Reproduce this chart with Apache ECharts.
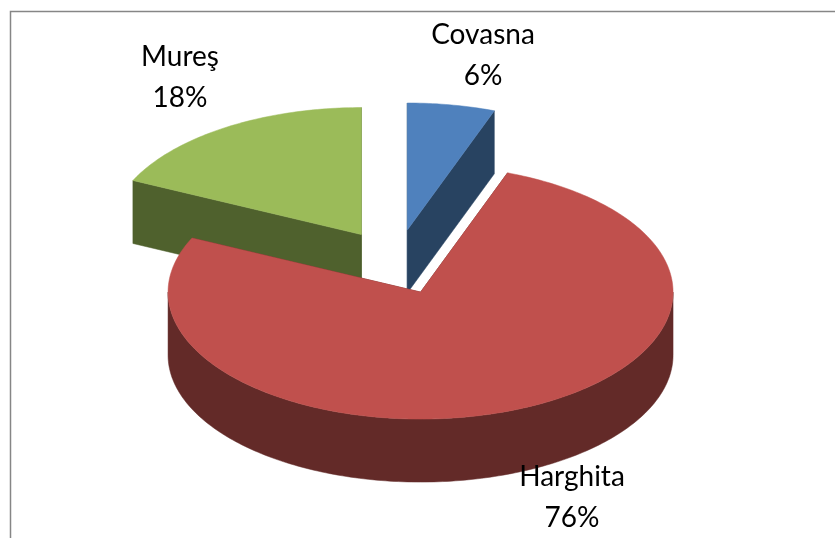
<!DOCTYPE html>
<html>
<head>
<meta charset="utf-8">
<style>html,body{margin:0;padding:0;background:#fff}#c{width:835px;height:538px}</style>
<script src="https://cdn.jsdelivr.net/npm/echarts@6/dist/echarts.min.js"></script>
</head>
<body>
<div id="c"></div>
<script>
const categories = ['Covasna', 'Harghita', 'Mureş'];
const values = [5.6, 76.4, 18];
const topColors = ['#4F81BD', '#C0504D', '#9BBB59'];
const wallColors = ['#284361', '#632A28', '#4F612D'];
const sliceOrder = [1, 3, 2];
const labelAnchors = [[483, 14], [572, 456], [180, 36]];

const center = [396, 262], rx = 252.5, ry = 127, depth = 63, explode = 0.256;
const total = values.reduce((a, b) => a + b, 0);
const toAngle = v => v / total * 360;
const rad = d => d * Math.PI / 180;

function renderSlice(params, api) {
  const i = params.dataIndex;
  const value = api.value(0);
  let start = 0;
  for (let k = 0; k < i; k++) start += toAngle(values[k]);
  const end = start + toAngle(value);
  const mid = (start + end) / 2;
  const tip = [
    center[0] + explode * rx * Math.sin(rad(mid)),
    center[1] - explode * ry * Math.cos(rad(mid))
  ];
  const rim = a => [tip[0] + rx * Math.sin(rad(a)), tip[1] - ry * Math.cos(rad(a))];
  const down = p => [p[0], p[1] + depth];
  const arc = (a, b) => {
    const pts = [];
    const n = Math.max(2, Math.ceil(Math.abs(b - a)));
    for (let s = 0; s <= n; s++) pts.push(rim(a + (b - a) * s / n));
    return pts;
  };
  const z2 = sliceOrder[i];
  const wallStyle = { fill: wallColors[i], stroke: wallColors[i], lineWidth: 0.5 };
  const children = [];
  const quad = a => {
    const r = rim(a);
    children.push({ type: 'polygon', z2, shape: { points: [tip, r, down(r), down(tip)] }, style: wallStyle });
  };
  quad(start);
  quad(end);
  const wa = Math.max(start, 90), wb = Math.min(end, 270);
  if (wb > wa) {
    const outer = arc(wa, wb);
    children.push({ type: 'polygon', z2, shape: { points: outer.concat(outer.map(down).reverse()) }, style: wallStyle });
  }
  children.push({
    type: 'polygon', z2,
    shape: { points: [tip].concat(arc(start, end)) },
    style: { fill: topColors[i], stroke: topColors[i], lineWidth: 0.5 }
  });
  children.push({
    type: 'text', z2: 10,
    style: {
      x: labelAnchors[i][0], y: labelAnchors[i][1],
      text: categories[i] + '\n' + Math.round(value / total * 100) + '%',
      fontFamily: 'Lato', fontSize: 28, lineHeight: 41,
      textAlign: 'center', textVerticalAlign: 'top', fill: '#000'
    }
  });
  return { type: 'group', children };
}

const chart = echarts.init(document.getElementById('c'), null, { renderer: 'canvas' });
chart.setOption({
  animation: false,
  backgroundColor: '#fff',
  graphic: [{
    type: 'polyline', silent: true,
    shape: { points: [[10.5, 538], [10.5, 11.5], [835, 11.5]] },
    style: { stroke: '#868686', lineWidth: 1.5, fill: null }
  }],
  series: [{
    type: 'custom',
    coordinateSystem: 'none',
    renderItem: renderSlice,
    data: categories.map((name, i) => ({ name, value: [values[i]] }))
  }]
});
</script>
</body>
</html>
